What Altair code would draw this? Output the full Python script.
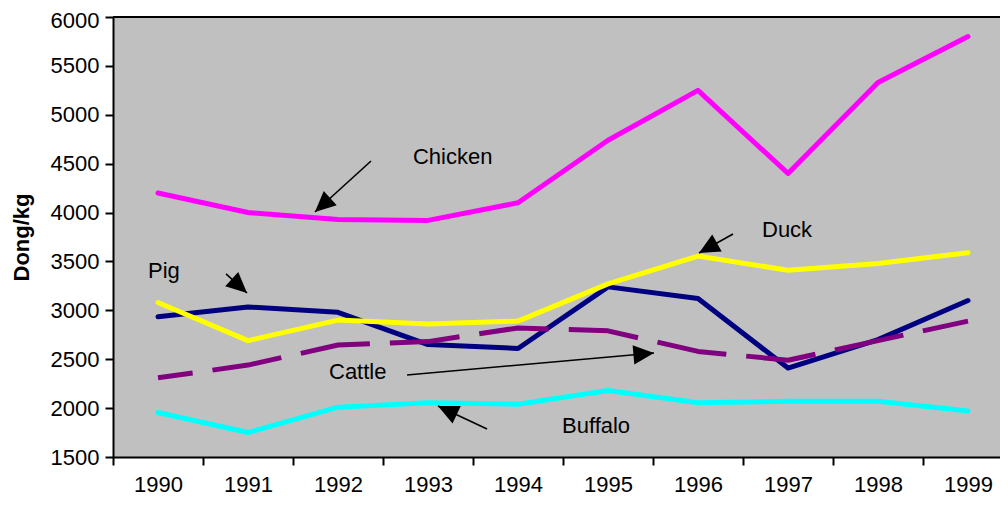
import math
import altair as alt
import pandas as pd

years = list(range(1990, 2000))
chicken = [4200, 4000, 3930, 3920, 4100, 4740, 5250, 4400, 5330, 5800]
pig = [2935, 3035, 2980, 2650, 2610, 3240, 3120, 2410, 2700, 3100]
duck = [3080, 2690, 2900, 2860, 2890, 3270, 3555, 3410, 3480, 3590]
cattle = [2310, 2440, 2645, 2680, 2820, 2790, 2580, 2490, 2690, 2890]
buffalo = [1955, 1750, 2010, 2055, 2040, 2180, 2055, 2070, 2070, 1970]

series_names = ["Chicken", "Pig", "Cattle", "Duck", "Buffalo"]
series_values = [chicken, pig, cattle, duck, buffalo]
series_colors = ["#FF00FF", "#000080", "#800080", "#FFFF00", "#00FFFF"]

y_ticks = list(range(1500, 6001, 500))

# annotation labels (data coordinates)
label_text = ["Chicken", "Duck", "Pig", "Cattle", "Buffalo"]
label_x = [1992.833, 1996.711, 1989.889, 1991.9, 1994.489]
label_y = [4497, 3750, 3331, 2298, 1745]

# arrows: tail (x1,y1) -> tip (x2,y2)
arrow_x1 = [1992.367, 1996.389, 1990.756, 1992.767, 1993.656]
arrow_y1 = [4527, 3781, 3372, 2339, 1787]
arrow_x2 = [1991.744, 1996.011, 1990.989, 1995.511, 1993.111]
arrow_y2 = [4006, 3586, 3177, 2564, 2022]

W, H = 887, 440
x_dom = [1989.5, 1989.5 + W / 90.0]
y_dom = [1500, 6000]
px_x = W / (x_dom[1] - x_dom[0])
px_y = H / (y_dom[1] - y_dom[0])

FONT = "Liberation Sans"

xscale = alt.Scale(domain=x_dom, nice=False, zero=False)
yscale = alt.Scale(domain=y_dom, nice=False, zero=False)

x_axis = alt.Axis(values=years, format="d", tickOffset=-45, labelOffset=45,
                  labelFlush=False, labelOverlap=False, tickSize=8, tickWidth=2,
                  domainWidth=2, domainColor="black", tickColor="black",
                  labelFont=FONT, labelFontSize=22, labelColor="black",
                  labelPadding=9, grid=False, title=None)
y_axis = alt.Axis(values=y_ticks, format="d", tickSize=8, tickWidth=2,
                  domainWidth=2, domainColor="black", tickColor="black",
                  labelFont=FONT, labelFontSize=22, labelColor="black",
                  labelOffset={"condition": {"test": "datum.value == 6000", "value": 3},
                               "value": 0},
                  labelPadding=6, grid=False, title="Dong/kg",
                  titleFont=FONT, titleFontSize=22, titleFontWeight="bold",
                  titleColor="black", titleX=-80, titleY=220)

layers = []
first = True
for name, vals, col in zip(series_names, series_values, series_colors):
    df = pd.DataFrame({"year": years, "value": vals})
    if name == "Cattle":
        mk = alt.Chart(df).mark_line(color=col, strokeWidth=5, strokeCap="butt",
                                     strokeJoin="round", strokeDash=[70, 20],
                                     strokeDashOffset=35)
    else:
        mk = alt.Chart(df).mark_line(color=col, strokeWidth=5, strokeCap="round",
                                     strokeJoin="round")
    if first:
        enc = mk.encode(x=alt.X("year:Q", scale=xscale, axis=x_axis),
                        y=alt.Y("value:Q", scale=yscale, axis=y_axis))
        first = False
    else:
        enc = mk.encode(x=alt.X("year:Q", scale=xscale),
                        y=alt.Y("value:Q", scale=yscale))
    layers.append(enc)

# top border of the plot area
top = alt.Chart(pd.DataFrame({"v": [y_dom[1]]})).mark_rule(
    color="black", strokeWidth=2).encode(y=alt.Y("v:Q", scale=yscale))

labels = alt.Chart(pd.DataFrame({"t": label_text, "x": label_x, "y": label_y})).mark_text(
    align="left", baseline="alphabetic", font=FONT, fontSize=22, color="black"
).encode(x=alt.X("x:Q", scale=xscale), y=alt.Y("y:Q", scale=yscale), text="t:N")

angles = []
for a, b, c, d in zip(arrow_x1, arrow_y1, arrow_x2, arrow_y2):
    dx = (c - a) * px_x
    dy = -(d - b) * px_y
    angles.append(math.degrees(math.atan2(dx, -dy)) % 360)

arrow_df = pd.DataFrame({"x1": arrow_x1, "y1": arrow_y1, "x2": arrow_x2,
                         "y2": arrow_y2, "ang": angles})
shafts = alt.Chart(arrow_df).mark_rule(color="black", strokeWidth=1.6).encode(
    x=alt.X("x1:Q", scale=xscale), y=alt.Y("y1:Q", scale=yscale),
    x2="x2:Q", y2="y2:Q")
heads = alt.Chart(arrow_df).mark_point(
    shape="M0,0 L-0.47,1 L0.47,1 Z", filled=True, color="black", opacity=1,
    size=1700, strokeWidth=0
).encode(x=alt.X("x2:Q", scale=xscale), y=alt.Y("y2:Q", scale=yscale),
         angle=alt.Angle("ang:Q", scale=None))

chart = alt.layer(*layers, top, shafts, heads, labels).properties(
    width=W, height=H,
    autosize=alt.AutoSizeParams(type="none"),
    padding={"left": 105, "top": 9, "right": 0, "bottom": 40},
    background="white",
).configure_view(fill="#C0C0C0", strokeWidth=0)

chart.save("out.html", embed_options={"renderer": "svg", "actions": False})
